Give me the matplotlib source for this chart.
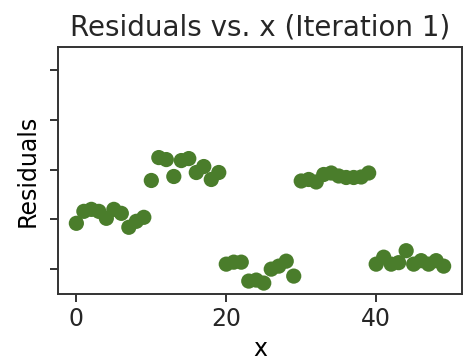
import numpy as np
import matplotlib
matplotlib.use('Agg')
import matplotlib.pyplot as plt

# residui (iterazione 1)
x = np.arange(50)
residuals = [-1.08, -0.84, -0.80, -0.84, -0.98, -0.80, -0.88, -1.16, -1.04, -0.96,
             -0.22, 0.24, 0.20, -0.14, 0.18, 0.22, -0.06, 0.06, -0.20, -0.06,
             -1.90, -1.86, -1.86, -2.24, -2.22, -2.28, -2.00, -1.94, -1.84, -2.14,
             -0.23, -0.20, -0.25, -0.10, -0.07, -0.13, -0.16, -0.16, -0.15, -0.07,
             -1.90, -1.76, -1.90, -1.87, -1.63, -1.90, -1.83, -1.90, -1.83, -1.94]
ytick_vals = [-2, -1, 0, 1, 2]

plt.rcParams['font.size'] = 17
plt.rcParams['text.color'] = '#262626'

fig = plt.figure(figsize=(4.64, 3.63), dpi=100)
ax = fig.add_axes([0.125, 0.19, 0.8707, 0.6805])
ax.scatter(x, residuals, s=120, color='#4a7d2b', edgecolors='none')
ax.set_title('Residuals vs. x (Iteration 1)', fontsize=20, pad=8)
ax.set_xlabel('x', fontsize=17, labelpad=4)
ax.set_ylabel('Residuals', fontsize=17)
ax.set_xticks([0, 20, 40])
ax.set_yticks(ytick_vals)
ax.set_yticklabels([])
ax.set_ylim(-2.5, 2.46)
ax.tick_params(length=6, width=1.4, colors='#333333', labelcolor='#262626', labelsize=17)
for sp in ax.spines.values():
    sp.set_linewidth(1.4)
    sp.set_color('#333333')

plt.savefig('out.png', dpi=100)
